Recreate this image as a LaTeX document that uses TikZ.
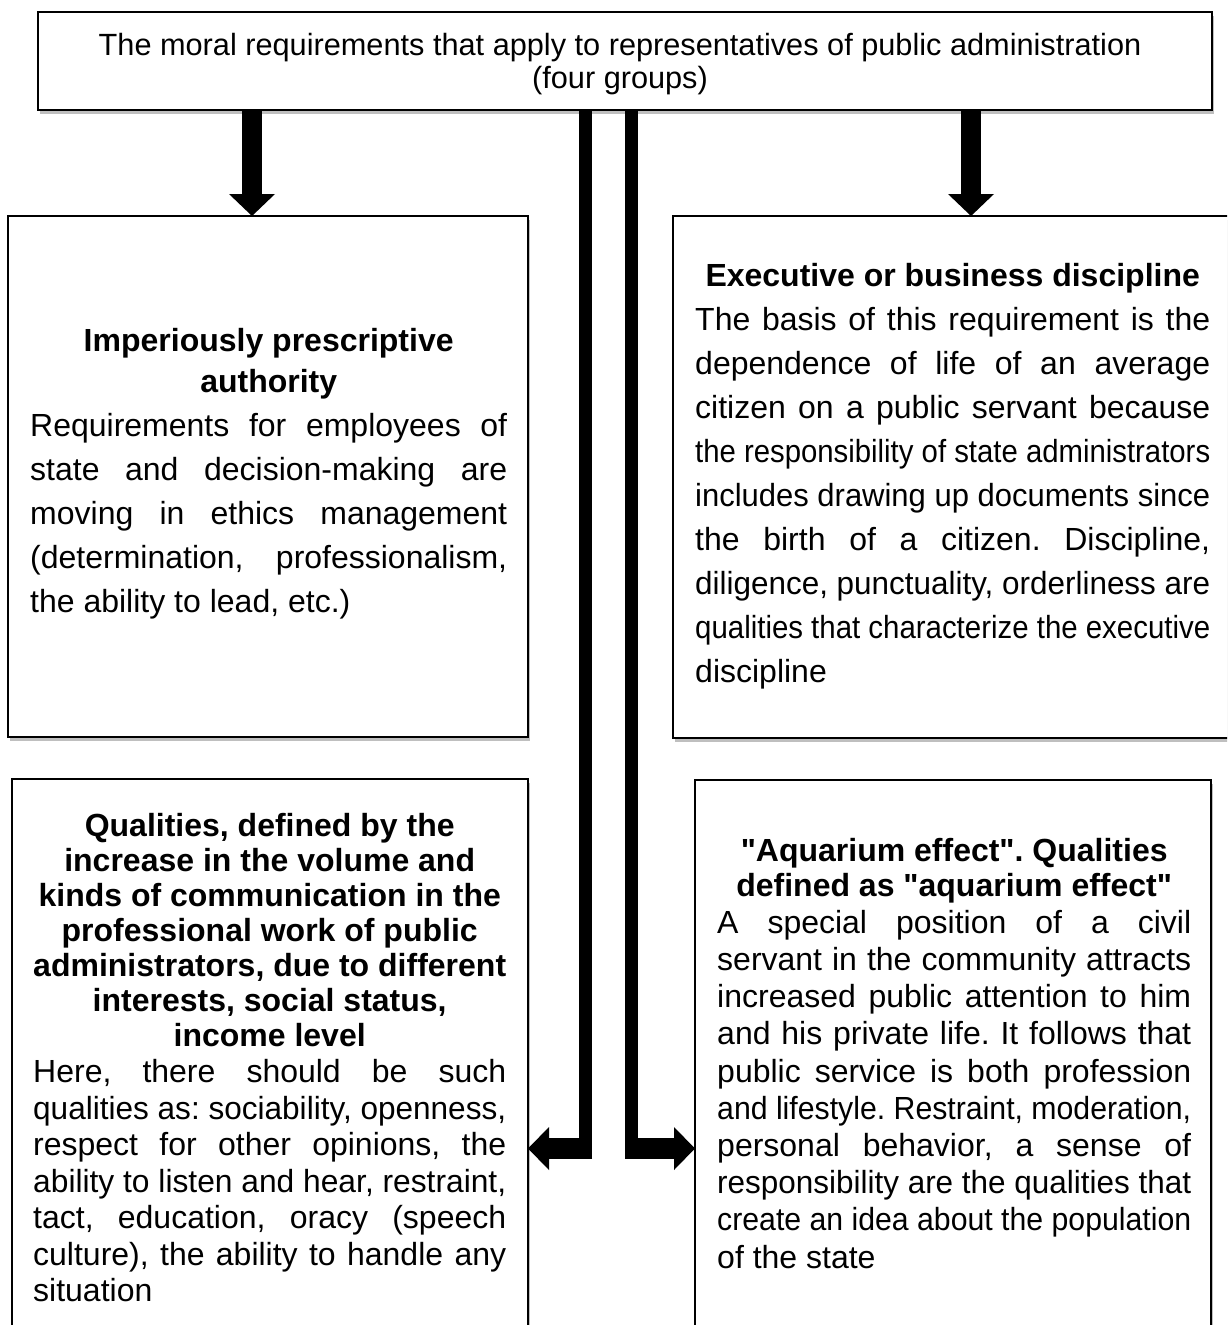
\documentclass[tikz,border=0pt]{standalone}
\usepackage{fontspec}
\setmainfont{Liberation Sans}
\usepackage{graphicx}
\usetikzlibrary{arrows.meta,shadows}
\frenchspacing
\newcommand\jl[1]{\setbox0=\hbox{#1}\ifdim\wd0>\linewidth\noindent\resizebox{\linewidth}{\height}{#1}\par\else\hbox to\linewidth{#1}\fi}
\newcommand\hd[2]{{\centering\bfseries\fontsize{32}{#1}\selectfont #2\par}}
\newcommand\qd{\textquotedbl}
\begin{document}
\begin{tikzpicture}[x=1pt,y=-1pt,
  box/.style={draw, line width=2.5pt, fill=white, inner sep=0pt, outer sep=0pt, anchor=north west,
    drop shadow={shadow xshift=2pt, shadow yshift=-4pt, opacity=0.25, fill=black}},
  txt/.style={inner sep=0pt, anchor=base west},
  downarr/.style={line width=20pt, -{Triangle[length=22pt,width=46pt,line width=0pt]}},
  armarr/.style={line width=21pt, -{Triangle[length=21pt,width=43pt,line width=0pt]}},
  bar/.style={line width=13pt}]
\useasboundingbox (0,0) rectangle (1227,1325);
\clip (0,0) rectangle (1227,1325);
\fill[white] (0,0) rectangle (1227,1325);
% boxes
\node[box, minimum width=1174pt, minimum height=98pt] (top) at (38,12) {};
\node[box, minimum width=520pt, minimum height=521pt] (lm) at (8,216) {};
\node[box, minimum width=570pt, minimum height=522pt] (rm) at (673,216) {};
\node[box, minimum width=516pt, minimum height=600pt] (lb) at (12,779) {};
\node[box, minimum width=516pt, minimum height=600pt] (rb) at (695,780) {};
% texts
\node[inner sep=0pt, anchor=base] (toptext) at (620,55) {\parbox[t]{1150pt}{\centering\fontsize{30.7}{33}\selectfont
  The moral requirements that apply to representatives of public administration\\(four groups)\par}};
\node[txt] (lmtext) at (30,351) {\parbox[t]{477pt}{\fontsize{32}{44}\selectfont
  \hd{41}{Imperiously prescriptive\\authority}%
  \jl{Requirements for employees of}%
  \jl{state and decision-making are}%
  \jl{moving in ethics management}%
  \jl{(determination, professionalism,}%
  \noindent the ability to lead, etc.)\par}};
\node[txt] (rmtext) at (695,286) {\parbox[t]{515pt}{\fontsize{32}{44}\selectfont
  \hd{41}{Executive or business discipline}%
  \jl{The basis of this requirement is the}%
  \jl{dependence of life of an average}%
  \jl{citizen on a public servant because}%
  \jl{the responsibility of state administrators}%
  \jl{includes drawing up documents since}%
  \jl{the birth of a citizen. Discipline,}%
  \jl{diligence, punctuality, orderliness are}%
  \jl{qualities that characterize the executive}%
  \noindent discipline\par}};
\node[txt] (lbtext) at (33,836) {\parbox[t]{473pt}{\fontsize{32}{36.5}\selectfont
  \hd{35}{Qualities, defined by the\\increase in the volume and\\kinds of communication in the\\professional work of public\\administrators, due to different\\interests, social status,\\income level}%
  \jl{Here, there should be such}%
  \jl{qualities as: sociability, openness,}%
  \jl{respect for other opinions, the}%
  \jl{ability to listen and hear, restraint,}%
  \jl{tact, education, oracy (speech}%
  \jl{culture), the ability to handle any}%
  \noindent situation\par}};
\node[txt] (rbtext) at (717,861) {\parbox[t]{474pt}{\fontsize{32}{37.2}\selectfont
  \hd{35}{\qd Aquarium effect\qd. Qualities\\defined as \qd aquarium effect\qd}%
  \jl{A special position of a civil}%
  \jl{servant in the community attracts}%
  \jl{increased public attention to him}%
  \jl{and his private life. It follows that}%
  \jl{public service is both profession}%
  \jl{and lifestyle. Restraint, moderation,}%
  \jl{personal behavior, a sense of}%
  \jl{responsibility are the qualities that}%
  \jl{create an idea about the population}%
  \noindent of the state\par}};
% connectors
\coordinate (xa) at (252,0);
\coordinate (xb) at (971,0);
\coordinate (xl) at (585.5,0);
\coordinate (xr) at (631.5,0);
\coordinate (xlo) at (592,0);
\coordinate (xro) at (625,0);
\coordinate (yend) at (0,1159);
\coordinate (yarm) at (0,1148.5);
\draw[downarr] (xa |- top.south) -- (xa |- lm.north);
\draw[downarr] (xb |- top.south) -- (xb |- rm.north);
\draw[bar] (xl |- top.south) -- (xl |- yend);
\draw[bar] (xr |- top.south) -- (xr |- yend);
\draw[armarr] (xlo |- yarm) -- (lb.east |- yarm);
\draw[armarr] (xro |- yarm) -- (rb.west |- yarm);
\end{tikzpicture}
\end{document}
